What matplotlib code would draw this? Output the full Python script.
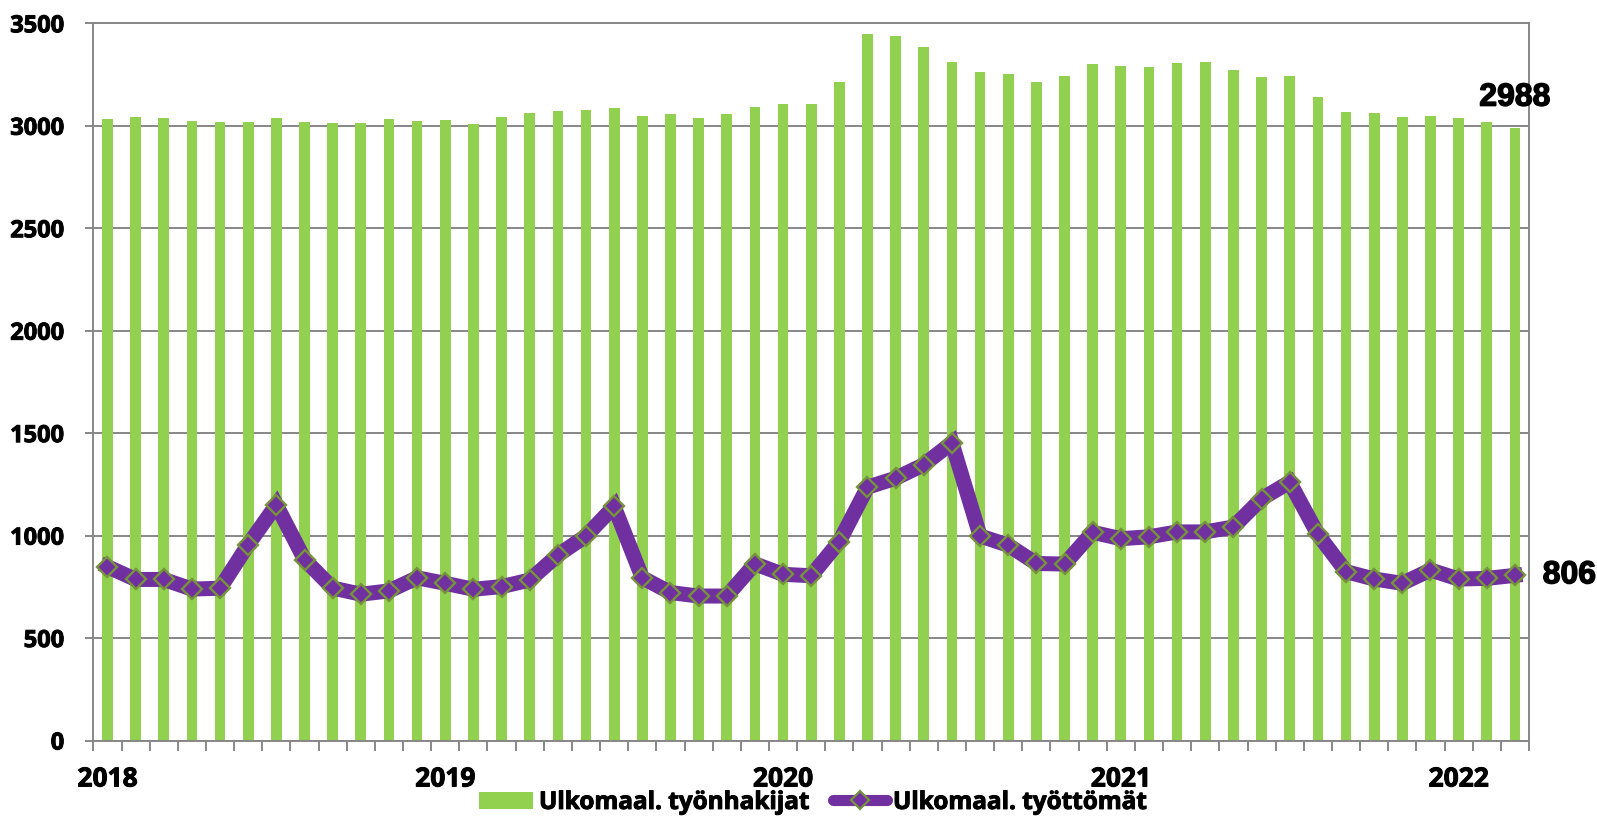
import matplotlib
matplotlib.use("Agg")
import matplotlib.pyplot as plt
import matplotlib.patheffects as pe
import numpy as np
from matplotlib.lines import Line2D
from matplotlib.patches import Patch

# Data: monthly, Jan 2018 .. Mar 2022
years = ["2018", "2019", "2020", "2021", "2022"]
job_seekers = [3031, 3041, 3036, 3023, 3016, 3016, 3039, 3016, 3013, 3013, 3031, 3023,
               3026, 3007, 3044, 3062, 3070, 3077, 3086, 3050, 3055, 3036, 3057, 3093,
               3104, 3107, 3215, 3446, 3440, 3383, 3311, 3262, 3252, 3215, 3241, 3300,
               3290, 3285, 3305, 3309, 3274, 3238, 3241, 3142, 3067, 3060, 3041, 3046,
               3037, 3016, 2988]
unemployed = [848, 786, 786, 739, 743, 956, 1150, 883, 744, 714, 730, 794,
              767, 738, 751, 783, 905, 998, 1142, 794, 722, 705, 705, 862,
              811, 804, 971, 1236, 1280, 1346, 1453, 998, 953, 864, 861, 1016,
              985, 994, 1018, 1018, 1042, 1180, 1261, 1006, 824, 788, 767, 832,
              788, 791, 806]
series_names = ["Ulkomaal. työnhakijat", "Ulkomaal. työttömät"]

GREEN = "#92D050"
PURPLE = "#7030A0"
OLIVE = "#77933C"
GRID = "#878787"
FONT = "Open Sans"
thick = [pe.withStroke(linewidth=0.7, foreground="black")]
thick2 = [pe.withStroke(linewidth=1.0, foreground="black")]

fig = plt.figure(figsize=(15.97, 8.16), dpi=100)
ax = fig.add_axes([93.4 / 1597, 1 - 740.5 / 816, (1529 - 93.4) / 1597, (740.5 - 23.3) / 816])

n = len(job_seekers)
x = np.arange(n)
ax.bar(x, job_seekers, width=0.38, color=GREEN, zorder=2, label=series_names[0])
ax.plot(x, unemployed, color=PURPLE, lw=10.8, marker="D", ms=10.5,
        markerfacecolor=PURPLE, markeredgecolor=OLIVE, markeredgewidth=1.7,
        solid_joinstyle="miter", zorder=3, label=series_names[1])

ax.set_xlim(-0.5, n - 0.5)
ax.set_ylim(0, 3500)
ax.set_yticks(np.arange(0, 3501, 500))
ax.yaxis.grid(True, color=GRID, lw=1.4, zorder=0)
ax.set_axisbelow(True)

for s in ax.spines.values():
    s.set_color(GRID)
    s.set_linewidth(1.4)

ax.tick_params(axis="y", length=6, width=1.4, color=GRID, pad=15,
               labelsize=17)
for lab in ax.get_yticklabels():
    lab.set_fontfamily(FONT)
    lab.set_fontweight("bold")
    lab.set_path_effects(thick)

# x: minor ticks at month boundaries, year labels at January bars
ax.set_xticks(np.arange(-0.5, n, 1.0), minor=True)
ax.set_xticks([0, 12, 24, 36, 48])
ax.set_xticklabels(years, fontfamily=FONT, fontweight="bold", fontsize=19)
for lab in ax.get_xticklabels():
    lab.set_path_effects(thick)
ax.tick_params(axis="x", which="major", length=0, pad=18)
ax.tick_params(axis="x", which="minor", length=7, width=1.4, color=GRID)

# annotations for last values
ax.annotate(f"{job_seekers[-1]}", xy=(n - 1, job_seekers[-1]), xytext=(0, 22),
            textcoords="offset points", ha="center", va="center",
            fontsize=23, fontweight="bold", family="Liberation Sans",
            annotation_clip=False, path_effects=thick2)
ax.annotate(f"{unemployed[-1]}", xy=(n - 1, unemployed[-1]), xytext=(20, 0),
            textcoords="offset points", ha="left", va="center",
            fontsize=23, fontweight="bold", family="Liberation Sans",
            annotation_clip=False, path_effects=thick2)

handles = [Patch(facecolor=GREEN, edgecolor="none"),
           Line2D([0], [0], color=PURPLE, lw=8, solid_capstyle="round",
                  marker="D", ms=9, markerfacecolor=PURPLE,
                  markeredgecolor=OLIVE, markeredgewidth=1.6)]
leg = fig.legend(handles, series_names, loc="center", bbox_to_anchor=(0.509, 0.016),
                 ncol=2, frameon=False, borderpad=0, handlelength=2.2,
                 handletextpad=0.25, columnspacing=1.0,
                 prop={"family": FONT, "weight": "bold", "size": 17.5})
for t in leg.get_texts():
    t.set_path_effects(thick)

fig.savefig("out.png", dpi=100)
